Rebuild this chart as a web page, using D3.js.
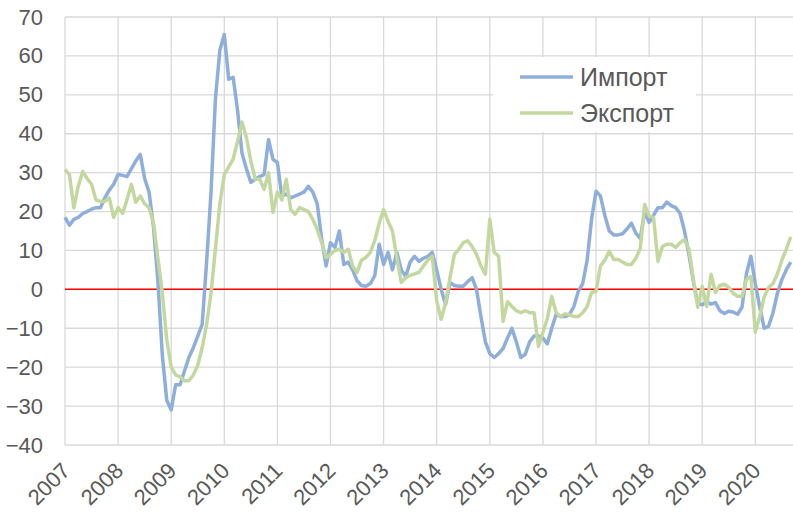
<!DOCTYPE html>
<html>
<head>
<meta charset="utf-8">
<script src="https://cdn.jsdelivr.net/npm/d3@7"></script>
<style>
body { margin: 0; background: #fff; }
text { font-family: "Liberation Sans", Arial, sans-serif; fill: #595959; }
</style>
</head>
<body>
<script>
var width = 793;
var height = 515;

// monthly values, Jan 2007 .. Sep 2020
var years = ["2007", "2008", "2009", "2010", "2011", "2012", "2013",
    "2014", "2015", "2016", "2017", "2018", "2019", "2020"];
var yTicks = [-40, -30, -20, -10, 0, 10, 20, 30, 40, 50, 60, 70];
var seriesNames = ["Импорт", "Экспорт"];

var importVals = [
    18.5, 16.5, 18, 18.5, 19.5, 20, 20.6, 21, 21, 23.5, 25.5, 27,
    29.5, 29.3, 29, 31, 33, 34.7, 28.5, 25, 16, 2, -17, -28.5,
    -31, -24.5, -24.5, -21, -17.5, -15, -12, -9, 7, 25, 49, 61.5,
    65.5, 54, 54.5, 46, 35, 31, 27.5, 28.3, 29, 29.5, 38.5, 33.4,
    32.6, 24, 24.5, 23.5, 24, 24.5, 25, 26.5, 25, 22, 13, 6,
    12, 10.8, 15, 6.4, 7, 5, 2.2, 1, 0.8, 1.5, 3.5, 11.6,
    6.4, 9.5, 5, 9.5, 5, 3.3, 7, 8.5, 7.2, 8, 8.5, 9.5,
    5, 0, -3.9, 1.8, 1, 0.8, 0.8, 2, 3, 0, -7, -13.5,
    -16.5, -17.5, -16.5, -15.2, -12.5, -10, -13.5, -17.5, -16.7, -13.5, -12, -12,
    -12.5, -14, -10, -6.4, -7, -7, -6.5, -4.4, -0.5, 1.5, 7.5, 18,
    25.2, 24, 19, 15, 14, 14, 14.3, 15.5, 17, 14.5, 13, 20,
    17.2, 19, 21, 21, 22.4, 21.5, 21, 19.5, 15, 9, 2, -3.5,
    -4, -3.2, -3.8, -3.4, -5.5, -6.2, -5.6, -5.8, -6.4, -4.6, 4, 8.5,
    1.5, -4.5, -10, -9.5, -6, -1, 2.5, 5, 7
];

var exportVals = [
    30.8, 29.5, 21, 26.5, 30.3, 28.5, 27, 23, 22.6, 22.6, 23.5, 18.5,
    21, 19.5, 23, 27, 22.4, 24, 22, 21, 17, 8, -1, -13,
    -20, -22, -22.5, -23.5, -23.5, -22, -19.5, -15, -9, -1, 10.5, 22,
    29.5, 31.5, 33.5, 38, 43, 39, 33, 28.3, 28.3, 25.7, 30, 19.8,
    25, 23, 28.3, 20.5, 19.3, 21, 20.5, 20, 18, 15.4, 12, 8.2,
    9, 10, 10.3, 9.5, 10.3, 6, 4.3, 7.5, 8.2, 9.5, 12.5, 17,
    20.5, 17.5, 15, 8, 1.8, 3, 3.6, 4, 4.4, 6, 7.5, 8.5,
    -3, -7.7, -3.5, 3, 9, 10.3, 12, 12.5, 11, 9, 6, 3.9,
    18, 9.5, 8.5, -8.2, -3.2, -4.4, -5.5, -6, -5.5, -6, -6, -14.6,
    -11, -7.5, -1.8, -6, -7, -6.3, -6.5, -7, -7, -6, -4.4, -0.8,
    -0.5, 6, 7.5, 9.8, 7.7, 7.7, 7, 6.4, 6.4, 8, 10.5, 21.8,
    18.8, 18.5, 7.2, 11, 11.6, 11.6, 10.8, 12, 12.8, 10.3, 2.6, -4.6,
    0.8, -4.4, 3.9, -0.8, 1, 1.3, 0.5, -1, -1.8, -1.8, 2.6, 3.3,
    -11, -7, -2, 0.5, 1.5, 4, 7.5, 10.3, 13.5
];

var colors = ["#8eaedb", "#c3d89f"];

var svg = d3.select("body")
        .append("svg")
        .attr("width", width)
        .attr("height", height),
        plot = {left: 65, top: 17, bottom: 445, yearWidth: 53.1};

var x = d3.scaleLinear()
        .domain([0, years.length * 12])
        .range([plot.left, plot.left + plot.yearWidth * years.length]);
var y = d3.scaleLinear().domain([-40, 70]).range([plot.bottom, plot.top]);

// gridlines
svg.append("g")
        .selectAll("line")
        .data(yTicks)
        .enter().append("line")
        .attr("x1", plot.left).attr("x2", width)
        .attr("y1", function(d){return y(d);})
        .attr("y2", function(d){return y(d);})
        .attr("stroke", "#d9d9d9")
        .attr("stroke-width", 1.3);

svg.append("g")
        .selectAll("line")
        .data(years)
        .enter().append("line")
        .attr("x1", function(d, i){return x(i * 12);})
        .attr("x2", function(d, i){return x(i * 12);})
        .attr("y1", plot.top).attr("y2", plot.bottom)
        .attr("stroke", "#d9d9d9")
        .attr("stroke-width", 1.3);

// y axis labels
var yAxis = svg.append("g")
        .attr("transform", "translate(" + plot.left + ",0)")
        .call(d3.axisLeft(y).tickValues(yTicks).tickSize(0).tickPadding(22));
yAxis.select(".domain").remove();
yAxis.selectAll("text")
        .attr("font-size", 22)
        .attr("font-family", "Liberation Sans, Arial, sans-serif")
        .attr("fill", "#595959");

// x axis labels, rotated
var xAxis = svg.append("g")
        .attr("transform", "translate(0," + plot.bottom + ")")
        .call(d3.axisBottom(x)
            .tickValues(years.map(function(d, i){return i * 12;}))
            .tickFormat(function(d){return years[d / 12];})
            .tickSize(0));
xAxis.select(".domain").remove();
xAxis.selectAll("text")
        .attr("font-size", 22)
        .attr("font-family", "Liberation Sans, Arial, sans-serif")
        .attr("fill", "#595959")
        .attr("text-anchor", "end")
        .attr("x", 0).attr("y", 0).attr("dy", 0)
        .attr("transform", "translate(6,27) rotate(-45)");

// zero line
svg.append("line")
        .attr("x1", plot.left).attr("x2", width)
        .attr("y1", y(0)).attr("y2", y(0))
        .attr("stroke", "#ff0000")
        .attr("stroke-width", 1.5);

// series
var line = d3.line()
        .x(function(d, i){return x(i);})
        .y(function(d){return y(d);});

[importVals, exportVals].forEach(function(vals, k){
    svg.append("path")
            .datum(vals)
            .attr("fill", "none")
            .attr("stroke", colors[k])
            .attr("stroke-width", 3.5)
            .attr("stroke-linejoin", "round")
            .attr("d", line);
});

// legend
var legend = svg.append("g");
legend.append("rect")
        .attr("x", 493).attr("y", 57)
        .attr("width", 203).attr("height", 75)
        .attr("fill", "#fff");
seriesNames.forEach(function(name, k){
    var ly = 77 + k * 36;
    legend.append("line")
            .attr("x1", 520).attr("x2", 573)
            .attr("y1", ly).attr("y2", ly)
            .attr("stroke", colors[k])
            .attr("stroke-width", 3.5);
    legend.append("text")
            .attr("x", 580).attr("y", ly)
            .attr("dy", "0.35em")
            .attr("font-size", 25)
            .text(name);
});
</script>
</body>
</html>
